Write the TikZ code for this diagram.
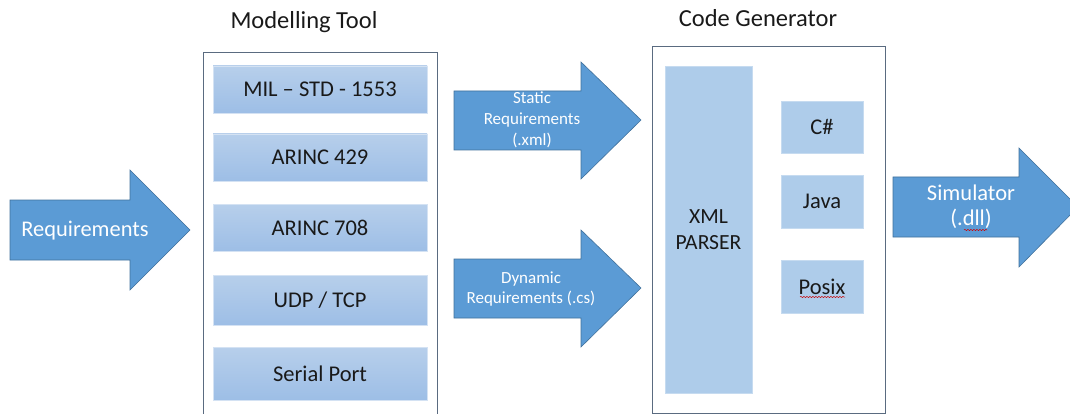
\documentclass[tikz,border=0pt]{standalone}
\usepackage{fontspec}
\setmainfont{Carlito}
\usetikzlibrary{decorations.pathmorphing}
\definecolor{arrowblue}{HTML}{5B9BD5}
\definecolor{arrowedge}{HTML}{41719C}
\definecolor{boxtop}{HTML}{B7CFEB}
\definecolor{boxbot}{HTML}{9DBEE6}
\definecolor{flatbox}{HTML}{AECCEA}
\definecolor{frameedge}{HTML}{5A6B80}
\begin{document}
\begin{tikzpicture}[x=1pt,y=-1pt,
  bigarrow/.style={fill=arrowblue,draw=arrowedge,line width=0.6pt},
  arrowtext/.style={text=white,align=center,inner sep=0pt},
  frame/.style={draw=frameedge,line width=0.8pt,fill=white},
  gradbox/.style={top color=boxtop,bottom color=boxbot,draw=boxtop!60!white,line width=0.5pt},
  flat/.style={fill=flatbox,draw=flatbox!70!white,line width=0.5pt},
  boxtext/.style={text=black!90,font=\fontsize{22.5}{26}\selectfont,align=center},
  title/.style={text=black!90,font=\fontsize{24.5}{28}\selectfont},
  squiggle/.style={draw=red!80!black,line width=0.5pt,decorate,decoration={snake,amplitude=0.6pt,segment length=3pt}}]
\useasboundingbox (0,0) rectangle (1070,414);

% Requirements arrow
\draw[bigarrow] (10,200) -- (130,200) -- (130,170) -- (190,230) -- (130,290) -- (130,260) -- (10,260) -- cycle;
\node[arrowtext,font=\fontsize{22.4}{26}\selectfont] (req) at (85,231) {Requirements};

% Modelling Tool
\node[title] (mtitle) at (304,22) {Modelling Tool};
\draw[frame] (203,52) rectangle (437,415);
\node[gradbox,minimum width=214pt,minimum height=47pt] (mil) at (320,89.5) {};
\node[boxtext] at (mil) {MIL -- STD - 1553};
\node[gradbox,minimum width=214pt,minimum height=47pt] (a429) at (320,157.5) {};
\node[boxtext] at (a429) {ARINC 429};
\node[gradbox,minimum width=214pt,minimum height=47pt] (a708) at (320,227.5) {};
\node[boxtext] at (a708) {ARINC 708};
\node[gradbox,minimum width=214pt,minimum height=50pt] (udp) at (320,300) {};
\node[boxtext] at (udp) {UDP / TCP};
\node[gradbox,minimum width=214pt,minimum height=53pt] (ser) at (320,373.5) {};
\node[boxtext] at (ser) {Serial Port};

% Static / Dynamic arrows
\draw[bigarrow] (454,91) -- (581,91) -- (581,62) -- (641,120) -- (581,179) -- (581,150) -- (454,150) -- cycle;
\node[arrowtext,font=\fontsize{17}{21}\selectfont] (stat) at (532,120) {Static\\Requirements\\(.xml)};
\draw[bigarrow] (454,259) -- (581,259) -- (581,230) -- (641,288) -- (581,347) -- (581,318) -- (454,318) -- cycle;
\node[arrowtext,font=\fontsize{17}{20}\selectfont] (dyn) at (531,289) {Dynamic\\Requirements (.cs)};

% Code Generator
\node[title] (ctitle) at (758,18) {Code Generator};
\draw[frame] (652,46) rectangle (885,413);
\node[flat,minimum width=87pt,minimum height=327pt] (xml) at (708.5,229.5) {};
\node[boxtext,font=\fontsize{21.6}{26}\selectfont] at (xml) {XML\\PARSER};
\node[flat,minimum width=82pt,minimum height=52pt] (cs) at (822,127) {};
\node[boxtext] at (cs) {C\#};
\node[flat,minimum width=82pt,minimum height=53pt] (java) at (822,201.5) {};
\node[boxtext] at (java) {Java};
\node[flat,minimum width=82pt,minimum height=53pt] (posix) at (822,286.5) {};
\node[boxtext] (posixt) at (posix) {Posix};
\draw[squiggle] (800,297) -- (845,297);

% Simulator arrow
\draw[bigarrow] (893,177) -- (1019,177) -- (1019,148) -- (1078,207) -- (1019,267) -- (1019,237) -- (893,237) -- cycle;
\node[arrowtext,font=\fontsize{22.5}{25}\selectfont] (sim) at (971,207) {Simulator\\(.dll)};
\draw[squiggle] (964,230) -- (987,230);
\end{tikzpicture}
\end{document}
